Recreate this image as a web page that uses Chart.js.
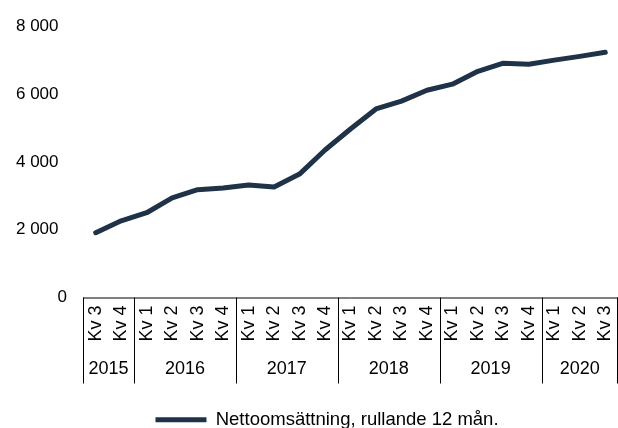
<!DOCTYPE html>
<html>
<head>
<meta charset="utf-8">
<script src="https://cdn.jsdelivr.net/npm/chart.js@4"></script>
<style>
  html, body { margin: 0; padding: 0; background: #fff; }
  #wrap { width: 618px; height: 428px; }
</style>
</head>
<body>
<div id="wrap"><canvas id="salesChart"></canvas></div>
<script>
// quarters on the x axis, grouped by year
const quarters = ['Kv 3', 'Kv 4',
  'Kv 1', 'Kv 2', 'Kv 3', 'Kv 4',
  'Kv 1', 'Kv 2', 'Kv 3', 'Kv 4',
  'Kv 1', 'Kv 2', 'Kv 3', 'Kv 4',
  'Kv 1', 'Kv 2', 'Kv 3', 'Kv 4',
  'Kv 1', 'Kv 2', 'Kv 3'];
const years = ['2015', '2016', '2017', '2018', '2019', '2020'];
const quartersPerYear = [2, 4, 4, 4, 4, 3];

// net sales, rolling 12 months (MSEK)
const netSales = [1910, 2260, 2500, 2940, 3180, 3230, 3320, 3260, 3640, 4350,
  4970, 5560, 5790, 6110, 6290, 6670, 6910, 6880, 7000, 7110, 7230];

const yTicks = [0, 2000, 4000, 6000, 8000];

const FONT = "'Liberation Sans', Arial, sans-serif";
const lineColor = '#1f3247';

// draws the two level category axis (quarters + years)
const groupAxis = {
  id: 'groupAxis',
  afterLayout(chart) {
    // legend sits a bit lower and right of center in the original
    chart.legend.top += 11;
    chart.legend.bottom += 11;
    chart.legend.left += 18;
    chart.legend.right += 18;
  },
  afterDraw(chart) {
    const ctx = chart.ctx;
    const x = chart.scales.x;
    const area = chart.chartArea;
    const step = x.getPixelForValue(1) - x.getPixelForValue(0);
    const axisY = area.bottom;
    const sepBottom = axisY + 86;

    ctx.save();
    ctx.strokeStyle = '#000';
    ctx.lineWidth = 1;
    ctx.beginPath();
    ctx.moveTo(area.left, axisY + 0.5);
    ctx.lineTo(area.right, axisY + 0.5);
    ctx.stroke();

    ctx.fillStyle = '#000';
    ctx.font = '18px ' + FONT;

    // quarter labels, rotated
    quarters.forEach((q, i) => {
      const px = x.getPixelForValue(i);
      ctx.save();
      ctx.translate(px, axisY + 8);
      ctx.rotate(-Math.PI / 2);
      ctx.textAlign = 'right';
      ctx.textBaseline = 'middle';
      ctx.fillText(q, 0, 0);
      ctx.restore();
    });

    // year groups + separators
    let idx = 0;
    years.forEach((yr, g) => {
      const n = quartersPerYear[g];
      const left = x.getPixelForValue(idx) - step / 2;
      const right = x.getPixelForValue(idx + n - 1) + step / 2;
      ctx.beginPath();
      ctx.moveTo(Math.round(left) + 0.5, axisY);
      ctx.lineTo(Math.round(left) + 0.5, sepBottom);
      if (g === years.length - 1) {
        ctx.moveTo(Math.round(right) - 0.5, axisY);
        ctx.lineTo(Math.round(right) - 0.5, sepBottom);
      }
      ctx.stroke();
      ctx.textAlign = 'center';
      ctx.textBaseline = 'middle';
      ctx.fillText(yr, (left + right) / 2, axisY + 72);
      idx += n;
    });
    ctx.restore();
  }
};

new Chart(document.getElementById('salesChart'), {
  type: 'line',
  data: {
    labels: quarters,
    datasets: [{
      label: 'Nettoomsättning, rullande 12 mån.',
      data: netSales,
      borderColor: lineColor,
      backgroundColor: lineColor,
      borderWidth: 5,
      borderCapStyle: 'round',
      borderJoinStyle: 'round',
      pointRadius: 0,
      tension: 0,
      fill: false
    }]
  },
  options: {
    responsive: true,
    maintainAspectRatio: false,
    animation: false,
    layout: { padding: { top: 25, right: 0, bottom: 0, left: 0 } },
    scales: {
      x: {
        type: 'category',
        offset: true,
        grid: { display: false, drawTicks: false },
        border: { display: false },
        ticks: { display: false },
        afterFit(scale) { scale.height = 92; }
      },
      y: {
        min: 0,
        max: 8000,
        grid: { display: false, drawTicks: false },
        border: { display: false },
        afterBuildTicks(scale) { scale.ticks = yTicks.map(v => ({ value: v })); },
        afterFit(scale) { scale.width = 83; },
        ticks: {
          padding: 16,
          color: '#000',
          font: { family: FONT, size: 17 },
          // non-zero labels carry a trailing space like the original number format
          callback: v => v === 0 ? '0' : String(v).replace(/\B(?=(\d{3})+(?!\d))/g, ' ') + '\u2002'
        }
      }
    },
    plugins: {
      tooltip: { enabled: false },
      legend: {
        position: 'bottom',
        labels: {
          color: '#000',
          font: { family: FONT, size: 18.5 },
          boxWidth: 51,
          boxHeight: 5,
          useBorderRadius: true,
          borderRadius: 2.5,
          padding: 10,
          generateLabels(chart) {
            return chart.data.datasets.map((ds, i) => ({
              text: ds.label,
              fillStyle: lineColor,
              strokeStyle: lineColor,
              lineWidth: 0,
              datasetIndex: i
            }));
          }
        }
      }
    }
  },
  plugins: [groupAxis]
});
</script>
</body>
</html>
